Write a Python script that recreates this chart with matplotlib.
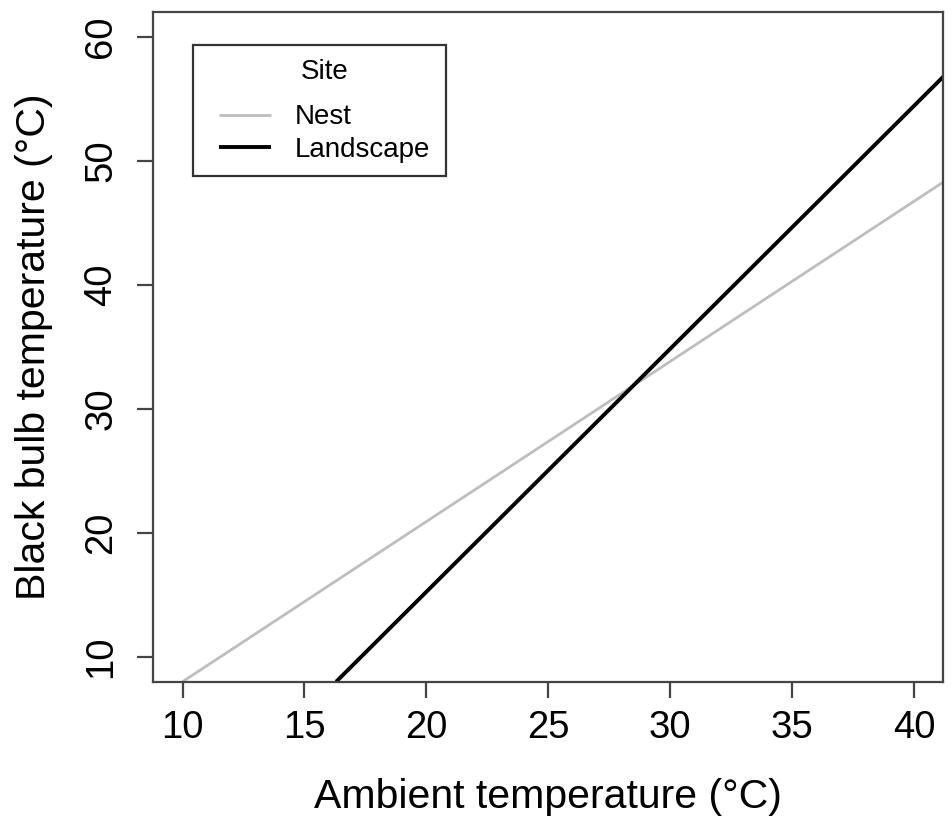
import matplotlib
matplotlib.use("Agg")
import matplotlib.pyplot as plt
from matplotlib.patches import Rectangle

plt.rcParams['font.family'] = ['Liberation Sans', 'DejaVu Sans']

# Data
nest_x = [10.0, 41.2]
nest_y = [8.0, 48.3]
land_x = [16.3, 41.2]
land_y = [8.0, 56.8]
x_ticks = [10, 15, 20, 25, 30, 35, 40]
y_ticks = [10, 20, 30, 40, 50, 60]

W, H = 952, 823
fig = plt.figure(figsize=(W / 100, H / 100), dpi=100)
ax = fig.add_axes([153.3 / W, 1 - 681.7 / H, (943.3 - 153.3) / W, (681.7 - 11.7) / H])

ax.plot(nest_x, nest_y, color='#BEBEBE', lw=2.0, label='Nest', solid_capstyle='butt')
ax.plot(land_x, land_y, color='black', lw=2.8, label='Landscape', solid_capstyle='butt')

ax.set_xlim(8.8, 41.2)
ax.set_ylim(8.0, 62.04)
ax.set_xticks(x_ticks)
ax.set_yticks(y_ticks)
for s in ax.spines.values():
    s.set_color('#444444')
    s.set_linewidth(1.6)
ax.tick_params(axis='both', direction='out', length=11.5, width=1.6, color='#444444',
               labelsize=27.5)
ax.tick_params(axis='x', pad=9)
ax.tick_params(axis='y', pad=13)
for lab in ax.get_yticklabels():
    lab.set_rotation(90)
    lab.set_va('center')

ax.set_xlabel('Ambient temperature (°C)', fontsize=29.5, labelpad=23)
ax.set_ylabel('Black bulb temperature (°C)', fontsize=29.5, labelpad=22)

leg = ax.legend(title='Site', loc='upper left', bbox_to_anchor=(219 / W, 1 - 59 / H),
                bbox_transform=fig.transFigure, fontsize=20, title_fontsize=20,
                frameon=False, handlelength=1.87, borderpad=0, labelspacing=0.22,
                handletextpad=0.86, borderaxespad=0)
leg._legend_box.align = 'center'
leg._legend_box.sep = 14
# legend frame
fig.patches.append(Rectangle((193 / W, 1 - 176 / H), (446 - 193) / W, (176 - 45) / H,
                             transform=fig.transFigure, fill=False,
                             edgecolor='#333333', lw=1.6, zorder=5))

fig.savefig('out.png', dpi=100)
